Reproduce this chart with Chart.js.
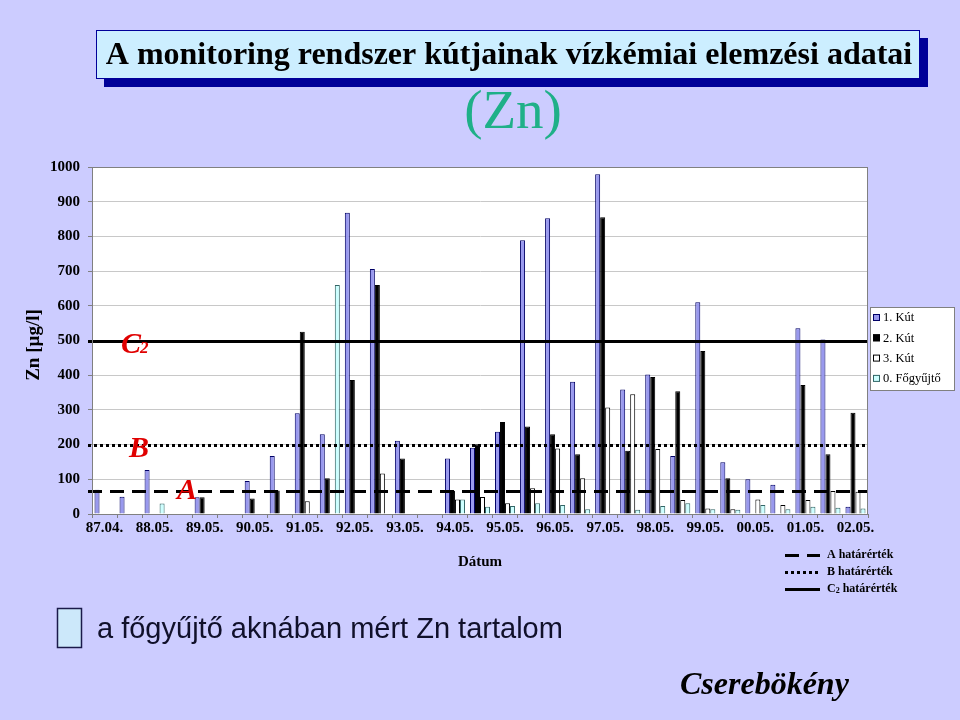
<!DOCTYPE html>
<html>
<head>
<meta charset="utf-8">
<script src="https://cdn.jsdelivr.net/npm/chart.js@4/dist/chart.umd.min.js"></script>
<style>
html,body{margin:0;padding:0;background:#ccccff;}
canvas{display:block;}
</style>
</head>
<body>
<canvas id="c" width="960" height="720" style="width:960px;height:720px"></canvas>
<script>
// ---- data ----
const categories = ["87.04.","","88.05.","","89.05.","","90.05.","","91.05.","","92.05.","","93.05.","","94.05.","","95.05.","","96.05.","","97.05.","","98.05.","","99.05.","","00.05.","","01.05.","","02.05."];
const seriesNames = ["1. Kút","2. Kút","3. Kút","0. Főgyűjtő"];
const kut1 = [70,50,127,null,48,null,95,167,290,230,868,706,211,null,160,191,237,789,852,381,979,359,402,167,610,149,100,84,535,503,21];
const kut2 = [null,null,null,null,48,null,45,68,525,103,386,660,160,null,67,201,265,252,230,172,855,182,395,354,470,103,null,null,372,172,292];
const kut3 = [null,null,null,null,null,null,null,null,37,null,null,117,null,null,42,49,31,74,189,103,307,345,187,40,16,14,42,26,40,66,64];
const fogyujto = [null,null,30,null,null,null,null,null,null,660,null,null,null,null,42,21,23,31,26,14,null,12,23,31,14,12,26,14,21,18,16];
const limitLetters = ["A","B","C"];
const limitNames = ["A határérték","B határérték","C határérték"];
const limitValues = [65,200,500];
const yTicks = [0,100,200,300,400,500,600,700,800,900,1000];

const fills = ["#9999ee","#000000","#ffffff","#ccffff"];
const borders = ["#000066","#000000","#000000","#336666"];
const SERIF = '"Liberation Serif","Times New Roman",serif';
const SANS = '"Liberation Sans",Arial,sans-serif';

function setDash(ctx, i){
  if(i===0) ctx.setLineDash([14,8]);
  else if(i===1) ctx.setLineDash([3,3]);
  else ctx.setLineDash([]);
}

const deco = {
  id:'deco',
  beforeDraw(chart){
    const ctx = chart.ctx, a = chart.chartArea;
    ctx.save();
    ctx.fillStyle = '#ccccff';
    ctx.fillRect(0,0,chart.width,chart.height);
    ctx.fillStyle = '#ffffff';
    ctx.fillRect(a.left,a.top,a.right-a.left,a.bottom-a.top);
    ctx.restore();
  },
  afterDatasetsDraw(chart){
    const ctx = chart.ctx, a = chart.chartArea, y = chart.scales.y;
    ctx.save();
    ctx.strokeStyle = '#000000';
    ctx.lineWidth = 3;
    limitValues.forEach((v,i)=>{
      const py = Math.round(y.getPixelForValue(v))+0.5;
      setDash(ctx,i);
      ctx.beginPath();
      ctx.moveTo(a.left-4,py);
      ctx.lineTo(a.right,py);
      ctx.stroke();
    });
    ctx.setLineDash([]);
    ctx.fillStyle = '#e00000';
    ctx.textBaseline = 'alphabetic';
    ctx.textAlign = 'left';
    ctx.font = 'italic bold 30px '+SERIF;
    const pyA = y.getPixelForValue(limitValues[0]);
    const pyB = y.getPixelForValue(limitValues[1]);
    const pyC = y.getPixelForValue(limitValues[2]);
    ctx.fillText(limitLetters[0], 177, pyA+8);
    ctx.fillText(limitLetters[1], 129, pyB+12);
    ctx.fillText(limitLetters[2], 121, pyC+12);
    ctx.font = 'italic bold 17px '+SERIF;
    ctx.fillText("2", 140, pyC+12);
    ctx.restore();
  },
  afterDraw(chart){
    const ctx = chart.ctx, a = chart.chartArea;
    ctx.save();
    ctx.strokeStyle = '#808080';
    ctx.lineWidth = 1;
    ctx.strokeRect(a.left+0.5,a.top+0.5,a.right-a.left-1,a.bottom-a.top);
    // title box
    ctx.fillStyle = '#000099';
    ctx.fillRect(104,38,824,49);
    ctx.fillStyle = '#cceeff';
    ctx.fillRect(96,30,824,49);
    ctx.strokeStyle = '#000099';
    ctx.strokeRect(96.5,30.5,823,48);
    ctx.fillStyle = '#000000';
    ctx.textAlign = 'center';
    ctx.textBaseline = 'middle';
    ctx.font = 'bold 32px '+SERIF;
    ctx.fillText("A monitoring rendszer kútjainak vízkémiai elemzési adatai", 509, 56);
    ctx.fillStyle = '#1fb088';
    ctx.font = '55px '+SERIF;
    ctx.fillText("(Zn)", 513, 114);
    // y title
    ctx.save();
    ctx.translate(34,345);
    ctx.rotate(-Math.PI/2);
    ctx.fillStyle = '#000000';
    ctx.font = 'bold 19px '+SERIF;
    ctx.fillText("Zn [µg/l]",0,0);
    ctx.restore();
    // x title
    ctx.fillStyle = '#000000';
    ctx.font = 'bold 15px '+SERIF;
    ctx.fillText("Dátum", 480, 562);
    // series legend
    ctx.fillStyle = '#ffffff';
    ctx.fillRect(870,307,85,84);
    ctx.strokeStyle = '#808080';
    ctx.strokeRect(870.5,307.5,84,83);
    ctx.textAlign = 'left';
    ctx.font = '12.5px '+SERIF;
    seriesNames.forEach((n,i)=>{
      const cy = 318 + i*20.3;
      ctx.fillStyle = fills[i];
      ctx.fillRect(873,cy-4,7,7);
      ctx.strokeStyle = borders[i];
      ctx.strokeRect(873.5,cy-3.5,6,6);
      ctx.fillStyle = '#000000';
      ctx.fillText(n, 883, cy);
    });
    // limit legend
    ctx.strokeStyle = '#000000';
    ctx.lineWidth = 3;
    limitNames.forEach((n,i)=>{
      const cy = 555 + i*17;
      setDash(ctx,i);
      ctx.beginPath();
      ctx.moveTo(785,cy+0.5);
      ctx.lineTo(820,cy+0.5);
      ctx.stroke();
      ctx.setLineDash([]);
      ctx.fillStyle = '#000000';
      ctx.font = 'bold 12px '+SERIF;
      ctx.fillText(n.split(" ")[0], 827, cy);
      const w0 = ctx.measureText(n.split(" ")[0]).width;
      let x = 827 + w0;
      if(i===2){
        ctx.font = 'bold 8px '+SERIF;
        ctx.fillText("2", x, cy+2);
        x += ctx.measureText("2").width;
        ctx.font = 'bold 12px '+SERIF;
      }
      ctx.fillText(" "+n.split(" ")[1], x, cy);
    });
    ctx.lineWidth = 1;
    // bottom swatch and note
    ctx.fillStyle = '#cce8fa';
    ctx.fillRect(57,608,25,40);
    ctx.strokeStyle = '#1a1a4a';
    ctx.lineWidth = 1.5;
    ctx.strokeRect(57.5,608.5,24,39);
    ctx.fillStyle = '#10102a';
    ctx.font = '29px '+SANS;
    ctx.fillText("a főgyűjtő aknában mért Zn tartalom", 97, 630);
    ctx.fillStyle = '#000000';
    ctx.font = 'italic bold 32px '+SERIF;
    ctx.fillText("Cserebökény", 680, 686);
    ctx.restore();
  }
};

const dataSets = [kut1,kut2,kut3,fogyujto].map((d,i)=>({
  label: seriesNames[i],
  data: d,
  backgroundColor: fills[i],
  borderColor: borders[i],
  borderWidth: 1,
  categoryPercentage: 0.8,
  barPercentage: 1.0
}));

new Chart(document.getElementById('c'), {
  type: 'bar',
  data: { labels: categories, datasets: dataSets },
  options: {
    responsive: false,
    animation: false,
    devicePixelRatio: 1,
    layout: { padding: { left: 0, top: 167, right: 92, bottom: 176 } },
    plugins: { legend: { display: false }, tooltip: { enabled: false } },
    scales: {
      x: {
        grid: { display: true, drawOnChartArea: false, drawTicks: true, tickLength: 4, color: '#808080', offset: true },
        border: { display: true, color: '#808080' },
        ticks: { autoSkip: false, maxRotation: 0, minRotation: 0, color: '#000000', padding: 1,
                 font: { family: SERIF, weight: 'bold', size: 15 } },
        afterFit(s){ s.height = 30; }
      },
      y: {
        min: 0, max: 1000,
        afterBuildTicks(s){ s.ticks = yTicks.map(v=>({value:v})); },
        grid: { color: '#c8c8c8', tickLength: 4, tickColor: '#808080' },
        border: { display: true, color: '#808080' },
        ticks: { color: '#000000', padding: 8, font: { family: SERIF, weight: 'bold', size: 15 },
                 callback: v => String(v) },
        afterFit(s){ s.width = 92; }
      }
    }
  },
  plugins: [deco]
});
</script>
</body>
</html>
